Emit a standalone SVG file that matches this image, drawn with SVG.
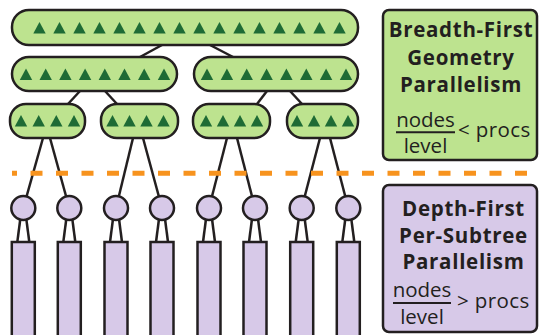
<svg xmlns="http://www.w3.org/2000/svg" xmlns:xlink="http://www.w3.org/1999/xlink" width="540" height="335" viewBox="0 0 540 335">
<style>
.g{fill:#bde38f;stroke:#231f20;stroke-width:2.5}
.p{fill:#d7c9e8;stroke:#231f20;stroke-width:2.5}
.c line{stroke:#231f20;stroke-width:2.5}
.tri{fill:#1e6b35}
.h{font-family:"Open Sans","Liberation Sans",sans-serif;font-weight:700;font-size:20.5px;letter-spacing:0.7px;fill:#231f20;text-anchor:middle}
.f{font-family:"Open Sans","Liberation Sans",sans-serif;font-size:20.5px;fill:#231f20}
</style>
<defs>
<path id="t" class="tri" d="M0,-6 L6.2,5.5 L-6.2,5.5 Z"/>
</defs>
<rect width="540" height="335" fill="#fff"/>
<g id="connectors" class="c">
<line x1="162" y1="45" x2="140" y2="57"/>
<line x1="210" y1="45" x2="233" y2="57"/>
<line x1="80" y1="91" x2="68" y2="104"/>
<line x1="105" y1="91" x2="117" y2="104"/>
<line x1="267" y1="91" x2="257" y2="104"/>
<line x1="290" y1="91" x2="302" y2="104"/>
<line x1="43" y1="138" x2="23.3" y2="208"/>
<line x1="50" y1="138" x2="69.3" y2="208"/>
<line x1="133" y1="138" x2="116" y2="208"/>
<line x1="143" y1="138" x2="162" y2="208"/>
<line x1="227" y1="138" x2="209" y2="208"/>
<line x1="237" y1="138" x2="255" y2="208"/>
<line x1="320" y1="138" x2="301.7" y2="208"/>
<line x1="330" y1="138" x2="348.3" y2="208"/>
<line x1="20.3" y1="219" x2="17.3" y2="242"/><line x1="26.3" y1="219" x2="29.3" y2="242"/>
<line x1="66.3" y1="219" x2="63.3" y2="242"/><line x1="72.3" y1="219" x2="75.3" y2="242"/>
<line x1="113" y1="219" x2="110" y2="242"/><line x1="119" y1="219" x2="122" y2="242"/>
<line x1="159" y1="219" x2="156" y2="242"/><line x1="165" y1="219" x2="168" y2="242"/>
<line x1="206" y1="219" x2="203" y2="242"/><line x1="212" y1="219" x2="215" y2="242"/>
<line x1="252" y1="219" x2="249" y2="242"/><line x1="258" y1="219" x2="261" y2="242"/>
<line x1="298.7" y1="219" x2="295.7" y2="242"/><line x1="304.7" y1="219" x2="307.7" y2="242"/>
<line x1="345.3" y1="219" x2="342.3" y2="242"/><line x1="351.3" y1="219" x2="354.3" y2="242"/>
</g>
<line id="divider" x1="12" y1="173.3" x2="540" y2="173.3" stroke="#f7931e" stroke-width="5" stroke-dasharray="12 13.5" stroke-dashoffset="7"/>
<g id="root">
<rect class="g" x="12" y="10" width="346" height="35" rx="17"/>
<use href="#t" x="39.5" y="28"/><use href="#t" x="59.5" y="28"/><use href="#t" x="79.5" y="28"/><use href="#t" x="99.5" y="28"/>
<use href="#t" x="119.5" y="28"/><use href="#t" x="139.5" y="28"/><use href="#t" x="159.5" y="28"/><use href="#t" x="179.5" y="28"/>
<use href="#t" x="199.5" y="28"/><use href="#t" x="219.5" y="28"/><use href="#t" x="239.5" y="28"/><use href="#t" x="259.5" y="28"/>
<use href="#t" x="279.5" y="28"/><use href="#t" x="299.5" y="28"/><use href="#t" x="319.5" y="28"/><use href="#t" x="339.5" y="28"/>
</g>
<g id="l2a">
<rect class="g" x="12" y="57" width="165" height="34" rx="17"/>
<use href="#t" x="26" y="74.5"/><use href="#t" x="45.7" y="74.5"/><use href="#t" x="65.4" y="74.5"/><use href="#t" x="85.1" y="74.5"/>
<use href="#t" x="104.8" y="74.5"/><use href="#t" x="124.5" y="74.5"/><use href="#t" x="144.2" y="74.5"/><use href="#t" x="164" y="74.5"/>
</g>
<g id="l2b">
<rect class="g" x="194" y="57" width="164" height="34" rx="17"/>
<use href="#t" x="207" y="74.5"/><use href="#t" x="226.9" y="74.5"/><use href="#t" x="246.7" y="74.5"/><use href="#t" x="266.6" y="74.5"/>
<use href="#t" x="286.4" y="74.5"/><use href="#t" x="306.3" y="74.5"/><use href="#t" x="326.1" y="74.5"/><use href="#t" x="346" y="74.5"/>
</g>
<g id="l3a">
<rect class="g" x="10" y="104" width="75" height="34" rx="16"/>
<use href="#t" x="21" y="121"/><use href="#t" x="38.7" y="121"/><use href="#t" x="56.3" y="121"/><use href="#t" x="74" y="121"/>
</g>
<g id="l3b">
<rect class="g" x="101" y="104" width="77" height="34" rx="16"/>
<use href="#t" x="112.5" y="121"/><use href="#t" x="129.5" y="121"/><use href="#t" x="146.5" y="121"/><use href="#t" x="163.5" y="121"/>
</g>
<g id="l3c">
<rect class="g" x="193" y="104" width="77" height="34" rx="16"/>
<use href="#t" x="206" y="121"/><use href="#t" x="223" y="121"/><use href="#t" x="240" y="121"/><use href="#t" x="257" y="121"/>
</g>
<g id="l3d">
<rect class="g" x="287" y="104" width="71" height="34" rx="16"/>
<use href="#t" x="297" y="121"/><use href="#t" x="314" y="121"/><use href="#t" x="331" y="121"/><use href="#t" x="348" y="121"/>
</g>
<g id="sub1"><circle class="p" cx="23.3" cy="208" r="12"/><rect class="p" x="11.8" y="242" width="23" height="100"/></g>
<g id="sub2"><circle class="p" cx="69.3" cy="208" r="12"/><rect class="p" x="57.8" y="242" width="23" height="100"/></g>
<g id="sub3"><circle class="p" cx="116" cy="208" r="12"/><rect class="p" x="104.5" y="242" width="23" height="100"/></g>
<g id="sub4"><circle class="p" cx="162" cy="208" r="12"/><rect class="p" x="150.5" y="242" width="23" height="100"/></g>
<g id="sub5"><circle class="p" cx="209" cy="208" r="12"/><rect class="p" x="197.5" y="242" width="23" height="100"/></g>
<g id="sub6"><circle class="p" cx="255" cy="208" r="12"/><rect class="p" x="243.5" y="242" width="23" height="100"/></g>
<g id="sub7"><circle class="p" cx="301.7" cy="208" r="12"/><rect class="p" x="290.2" y="242" width="23" height="100"/></g>
<g id="sub8"><circle class="p" cx="348.3" cy="208" r="12"/><rect class="p" x="336.8" y="242" width="23" height="100"/></g>
<g id="legend-bf">
<rect class="g" x="383" y="10" width="154" height="150" rx="6"/>
<text class="h" x="461" y="37">Breadth-First</text>
<text class="h" x="461" y="65">Geometry</text>
<text class="h" x="461" y="92">Parallelism</text>
<text class="f" x="425.5" y="127" text-anchor="middle">nodes</text>
<line x1="396" y1="132.3" x2="455" y2="132.3" stroke="#231f20" stroke-width="2"/>
<text class="f" x="425.5" y="153" text-anchor="middle">level</text>
<text class="f" x="458" y="137" letter-spacing="0.4">&lt; procs</text>
</g>
<g id="legend-df">
<rect class="p" x="383" y="185" width="154" height="147" rx="6"/>
<text class="h" x="463.5" y="215.5">Depth-First</text>
<text class="h" x="463.5" y="242.5">Per-Subtree</text>
<text class="h" x="463.5" y="268.5">Parallelism</text>
<text class="f" x="422" y="297" text-anchor="middle">nodes</text>
<line x1="393" y1="303" x2="451" y2="303" stroke="#231f20" stroke-width="2"/>
<text class="f" x="422" y="324" text-anchor="middle">level</text>
<text class="f" x="457" y="308" letter-spacing="0.4">&gt; procs</text>
</g>
</svg>
